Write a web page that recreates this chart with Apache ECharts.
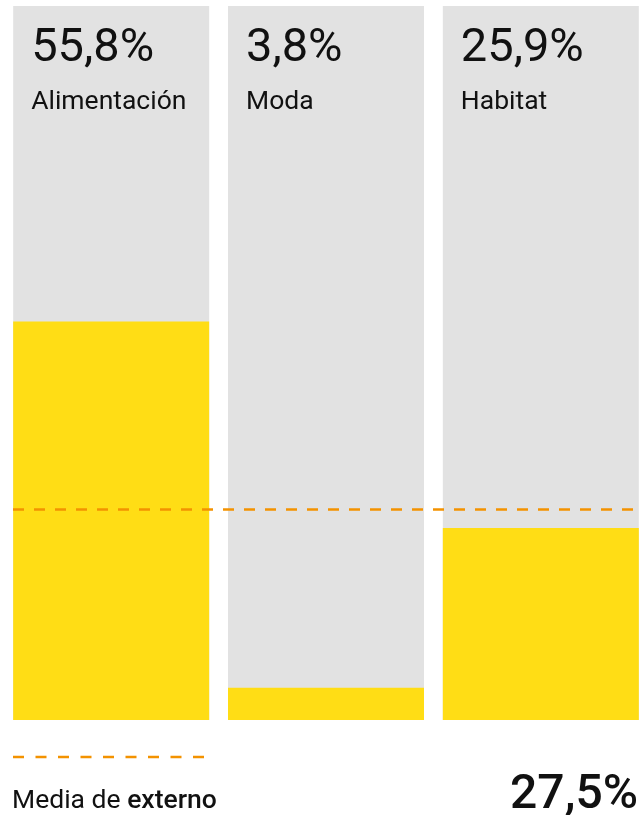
<!DOCTYPE html>
<html>
<head>
<meta charset="utf-8">
<script src="https://cdn.jsdelivr.net/npm/echarts@6/dist/echarts.min.js"></script>
<style>
  html, body { margin: 0; padding: 0; background: #fff; }
  #chart { width: 639px; height: 815px; }
</style>
</head>
<body>
<div id="chart"></div>
<script>
// data
var categories = ['Alimentación', 'Moda', 'Habitat']
var valueLabels = ['55,8%', '3,8%', '25,9%']
var barHeights = [55.8, 4.5, 26.9]      // drawn height, % of the full column
var fullColumn = [100, 100, 100]
var meanHeight = 29.5                    // drawn height of the dashed mean line
var meanLabel = '27,5%'

var chart = echarts.init(document.getElementById('chart'))

var font = 'Roboto, "Noto Sans", sans-serif'
var orange = '#F39200'

chart.setOption({
  animation: false,
  grid: { left: 13, right: 0, top: 6, bottom: 95 },
  xAxis: { type: 'value', min: -0.457, max: 2.457, show: false },
  yAxis: { type: 'value', min: 0, max: 100, show: false },
  series: [
    {
      type: 'bar',
      silent: true,
      barWidth: 196,
      itemStyle: { color: '#e2e2e2' },
      data: fullColumn.map(function (v, i) { return [i, v] }),
      label: {
        show: true,
        position: [18, 17],
        align: 'left',
        verticalAlign: 'top',
        formatter: function (p) {
          return '{v|' + valueLabels[p.dataIndex] + '}\n{c|' + categories[p.dataIndex] + '}'
        },
        rich: {
          v: { fontFamily: font, fontSize: 47, lineHeight: 52, color: '#111' },
          c: { fontFamily: font, fontSize: 26.5, lineHeight: 54, color: '#111' }
        }
      },
      z: 1
    },
    {
      type: 'bar',
      silent: true,
      barWidth: 196,
      barGap: '-100%',
      itemStyle: { color: '#FFDD15' },
      data: barHeights.map(function (v, i) { return [i, v] }),
      markLine: {
        silent: true,
        symbol: ['none', 'none'],
        label: { show: false },
        lineStyle: { type: [11, 10], width: 2.5, color: orange },
        data: [{ yAxis: meanHeight }]
      },
      z: 2
    }
  ],
  graphic: [
    {
      type: 'line',
      shape: { x1: 13, y1: 757, x2: 205, y2: 757 },
      style: { stroke: orange, lineWidth: 2.5, lineDash: [11, 11.5] }
    },
    {
      type: 'text',
      left: 12,
      top: 788,
      style: {
        text: 'Media de {b|externo}',
        fontFamily: font,
        fontSize: 26.5,
        fill: '#111',
        rich: { b: { fontFamily: font, fontSize: 26.5, fontWeight: 500, fill: '#111' } }
      }
    },
    {
      type: 'text',
      right: 1,
      top: 772,
      style: {
        text: meanLabel,
        fontFamily: font,
        fontSize: 48,
        fontWeight: 500,
        fill: '#111'
      }
    }
  ]
})
</script>
</body>
</html>
